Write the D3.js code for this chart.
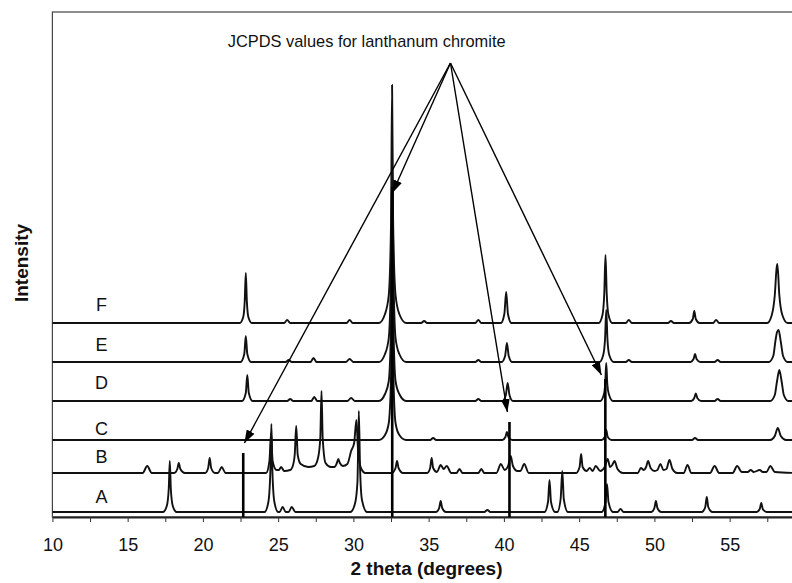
<!DOCTYPE html>
<html>
<head>
<meta charset="utf-8">
<title>XRD patterns - lanthanum chromite</title>
<script src="https://d3js.org/d3.v7.min.js"></script>
<style>
  body { margin: 0; background: #fff; }
  text { font-family: "Liberation Sans", Arial, Helvetica, sans-serif; fill: #111; }
</style>
</head>
<body>
<div id="chart"></div>
<script>
// sample names and their vertical offsets (intensity units)
var sampleNames = ["A", "B", "C", "D", "E", "F"];
var offsets = [5, 44, 77, 116, 155, 194];

// patterns: [2 theta, intensity above own baseline]
var traceA = [[10,0],
  [17.35,0],[17.6,6],[17.73,23],[17.8,51],[17.87,23],[18.0,6],[18.25,0],
  [24.1,0],[24.35,10],[24.48,40],[24.55,88],[24.62,40],[24.75,10],[25.0,0],
  [25.1,0],[25.3,5],[25.5,0],[25.7,0],[25.9,5],[26.15,0],
  [29.8,0],[30.1,8],[30.27,30],[30.36,101],[30.44,45],[30.57,12],[30.9,0],
  [35.5,0],[35.7,4],[35.8,11],[35.9,4],[36.15,0],
  [38.7,0],[38.9,2],[39.1,0],
  [42.7,0],[42.93,10],[43.03,32],[43.13,10],[43.4,0],
  [43.55,0],[43.77,13],[43.88,41],[43.98,13],[44.25,0],
  [46.5,0],[46.75,10],[46.85,28],[46.95,10],[47.25,0],
  [47.55,0],[47.75,3],[47.95,0],
  [49.8,0],[50.0,4],[50.1,11],[50.2,4],[50.45,0],
  [53.15,0],[53.38,5],[53.48,15],[53.58,5],[53.85,0],
  [56.8,0],[57.0,3],[57.1,9],[57.2,3],[57.45,0],
  [59.6,0]];

var traceB = [[10,0],
  [16.0,0],[16.3,7],[16.6,0],
  [18.1,0],[18.3,4],[18.4,10],[18.5,4],[18.8,0],
  [20.15,0],[20.35,5],[20.45,15],[20.55,5],[20.8,0],
  [21.0,0],[21.25,6],[21.5,0],
  [24.2,0],[24.42,12],[24.53,40],[24.63,12],[24.9,3],
  [25.05,3],[25.2,6],[25.4,2],[25.8,3],
  [25.95,6],[26.1,18],[26.2,47],[26.3,18],[26.5,9],[27.0,6],[27.4,7],
  [27.65,15],[27.8,35],[27.88,82],[27.96,35],[28.15,10],[28.5,6],
  [28.75,6],[28.9,10],[29.0,14],[29.1,10],[29.3,7],[29.6,9],
  [29.85,22],[30.05,30],[30.2,53],[30.3,25],[30.5,5],[30.8,0],
  [32.55,0],[32.8,5],[32.9,12],[33.0,5],[33.3,0],
  [34.9,0],[35.1,5],[35.2,15],[35.3,5],[35.55,1],
  [35.8,8],[36.0,4],[36.2,7],[36.5,0],
  [36.85,0],[37.05,4],[37.25,0],
  [38.3,0],[38.5,4],[38.7,0],
  [39.5,0],[39.8,9],[40.05,3],[40.3,8],[40.45,17],[40.6,7],[40.9,2],
  [41.1,2],[41.35,9],[41.65,0],
  [44.8,0],[45.03,6],[45.13,19],[45.23,6],[45.5,2],
  [45.7,5],[45.9,2],[46.1,7],[46.4,2],
  [46.7,6],[46.9,14],[47.05,6],[47.2,8],[47.35,12],[47.55,4],[47.9,0],
  [48.9,0],[49.1,5],[49.3,3],[49.45,6],[49.58,12],[49.75,5],[50.0,2],
  [50.2,3],[50.4,9],[50.6,3],[50.8,4],[51.0,13],[51.2,4],[51.5,0],
  [51.95,0],[52.2,8],[52.45,0],
  [53.7,0],[54.0,7],[54.3,0],
  [55.2,0],[55.5,7],[55.8,1],
  [56.2,1],[56.4,3],[56.6,1],[57.0,3],[57.2,1],
  [57.45,1],[57.7,7],[58.0,1],
  [59.6,0]];

var traceC = [[10,0],
  [31.7,0],[32.1,5],[32.35,17],[32.5,63],[32.58,140],[32.66,63],[32.8,17],[33.05,5],[33.5,0],
  [35.1,0],[35.3,2],[35.5,0],
  [39.9,0],[40.1,3],[40.2,8],[40.3,3],[40.55,0],
  [46.5,0],[46.7,3],[46.8,10],[46.9,3],[47.15,0],
  [52.5,0],[52.7,2],[52.9,0],
  [57.7,0],[58.0,4],[58.2,12],[58.4,4],[58.75,0],
  [59.6,0]];

var traceD = [[10,0],
  [22.6,0],[22.85,8],[22.95,26],[23.05,8],[23.3,0],
  [25.6,0],[25.8,2],[26.0,0],
  [27.2,0],[27.4,4],[27.6,0],
  [29.6,0],[29.85,3],[30.1,0],
  [31.7,0],[32.1,7],[32.35,20],[32.5,76],[32.58,170],[32.66,76],[32.8,20],[33.05,7],[33.5,0],
  [38.1,0],[38.3,2],[38.5,0],
  [39.9,0],[40.13,6],[40.25,18],[40.37,6],[40.6,0],
  [46.4,0],[46.65,7],[46.73,17],[46.8,38],[46.87,17],[46.97,7],[47.25,0],
  [52.45,0],[52.65,3],[52.75,7.5],[52.85,3],[53.1,0],
  [54.0,0],[54.2,2],[54.4,0],
  [57.7,0],[58.0,6],[58.15,20],[58.3,31],[58.45,20],[58.6,6],[58.9,0],
  [59.6,0]];

var traceE = [[10,0],
  [22.5,0],[22.75,8],[22.85,26],[22.95,8],[23.2,0],
  [25.5,0],[25.7,2],[25.9,0],
  [27.15,0],[27.35,4],[27.55,0],
  [29.5,0],[29.75,3],[30.0,0],
  [31.7,0],[32.1,8],[32.35,24],[32.5,90],[32.58,200],[32.66,90],[32.8,24],[33.05,8],[33.5,0],
  [38.1,0],[38.3,2],[38.5,0],
  [39.85,0],[40.08,6],[40.2,19],[40.32,6],[40.55,0],
  [46.35,0],[46.6,7],[46.72,23],[46.8,52],[46.88,23],[47.0,7],[47.3,0],
  [48.1,0],[48.3,2],[48.5,0],
  [52.4,0],[52.6,3],[52.7,8],[52.8,3],[53.05,0],
  [54.0,0],[54.2,2],[54.4,0],
  [57.6,0],[57.9,6],[58.05,22],[58.15,30],[58.25,32],[58.4,20],[58.55,6],[58.85,0],
  [59.6,0]];

var traceF = [[10,0],
  [22.45,0],[22.68,6],[22.78,22],[22.85,50],[22.92,22],[23.02,6],[23.25,0],
  [25.4,0],[25.6,3],[25.8,0],
  [29.55,0],[29.75,3],[29.95,0],
  [31.7,0],[32.1,9],[32.35,28],[32.5,100],[32.57,238],[32.64,100],[32.8,28],[33.05,9],[33.5,0],
  [34.5,0],[34.7,2],[34.9,0],
  [38.1,0],[38.3,3],[38.5,0],
  [39.8,0],[40.03,9],[40.15,31],[40.27,9],[40.5,0],
  [46.3,0],[46.55,8],[46.67,30],[46.75,68],[46.83,30],[46.95,8],[47.2,0],
  [48.1,0],[48.3,3],[48.5,0],
  [50.9,0],[51.1,2],[51.3,0],
  [52.3,0],[52.55,4],[52.65,12],[52.75,4],[53.0,0],
  [53.9,0],[54.1,3],[54.3,0],
  [57.5,0],[57.8,8],[58.0,28],[58.12,55],[58.17,59],[58.3,28],[58.5,8],[58.85,0],
  [59.6,0]];

var traces = [traceA, traceB, traceC, traceD, traceE, traceF];

// JCPDS reference lines for lanthanum chromite
var jcpdsPos = [22.68, 32.58, 40.37, 46.74];
var jcpdsInt = [64, 330, 95, 138];

// axis ticks
var xTicks = [10, 12.5, 15, 17.5, 20, 22.5, 25, 27.5, 30, 32.5, 35, 37.5, 40, 42.5, 45, 47.5, 50, 52.5, 55, 57.5];
var xTickLabels = ["10", "", "15", "", "20", "", "25", "", "30", "", "35", "", "40", "", "45", "", "50", "", "55", ""];

var W = 792, H = 583;
var svg = d3.select("#chart").append("svg")
  .attr("width", W)
  .attr("height", H);

var x = d3.scaleLinear().domain([10, 60]).range([52.4, 804.9]);
var y = d3.scaleLinear().domain([0, 505]).range([517, 12]);

// frame
svg.append("rect")
  .attr("x", x(10)).attr("y", y(505))
  .attr("width", x(60) - x(10)).attr("height", y(0) - y(505))
  .attr("fill", "none").attr("stroke", "#444").attr("stroke-width", 1.2);

// bottom axis
var xAxis = d3.axisBottom(x)
  .tickValues(xTicks)
  .tickFormat(function(d, i) { return xTickLabels[i]; })
  .tickSize(5).tickSizeOuter(0).tickPadding(16);
var gx = svg.append("g")
  .attr("transform", "translate(0," + y(0) + ")")
  .call(xAxis);
gx.select(".domain").attr("stroke", "#222").attr("stroke-width", 2);
gx.selectAll(".tick line").attr("stroke", "#333").attr("stroke-width", 1);
gx.selectAll(".tick text").attr("font-size", "18px").attr("fill", "#111")
  .style("font-family", "'Liberation Sans', Arial, sans-serif");

// patterns
var line = d3.line().curve(d3.curveMonotoneX);
svg.append("g").selectAll("path.trace")
  .data(traces)
  .enter()
  .append("path")
  .attr("class", "trace")
  .attr("d", function(t, i) {
    return line(t.map(function(p) { return [x(p[0]), y(p[1] + offsets[i])]; }));
  })
  .attr("fill", "none")
  .attr("stroke", "#111")
  .attr("stroke-width", 1.9)
  .attr("stroke-linejoin", "round");

// sample labels
var labelY = [13.7, 54.3, 82, 127.7, 166.3, 206.3];
svg.append("g").selectAll("text")
  .data(sampleNames)
  .enter()
  .append("text")
  .text(function(d) { return d; })
  .attr("x", x(13.26))
  .attr("y", function(d, i) { return y(labelY[i]); })
  .attr("text-anchor", "middle")
  .attr("font-size", "18px");

// JCPDS stick lines
svg.append("g").selectAll("line")
  .data(jcpdsPos)
  .enter()
  .append("line")
  .attr("x1", function(d) { return x(d); })
  .attr("x2", function(d) { return x(d); })
  .attr("y1", y(0))
  .attr("y2", function(d, i) { return y(jcpdsInt[i]); })
  .attr("stroke", "#000")
  .attr("stroke-width", 2.6);

// arrows from the label to the stick lines
svg.append("defs").append("marker")
  .attr("id", "head")
  .attr("markerUnits", "userSpaceOnUse")
  .attr("viewBox", "0 0 13 9")
  .attr("markerWidth", 13).attr("markerHeight", 9)
  .attr("refX", 13).attr("refY", 4.5)
  .attr("orient", "auto")
  .append("path").attr("d", "M0,0L13,4.5L0,9Z").attr("fill", "#000");

var apex = [36.45, 454];
var arrowTips = [[22.76, 74], [32.59, 324], [40.23, 105], [46.48, 142]];
svg.append("g").selectAll("line")
  .data(arrowTips)
  .enter()
  .append("line")
  .attr("x1", x(apex[0])).attr("y1", y(apex[1]))
  .attr("x2", function(d) { return x(d[0]); })
  .attr("y2", function(d) { return y(d[1]); })
  .attr("stroke", "#000")
  .attr("stroke-width", 1.4)
  .attr("marker-end", "url(#head)");

svg.append("text")
  .text("JCPDS values for lanthanum chromite")
  .attr("x", x(30.88))
  .attr("y", y(470))
  .attr("text-anchor", "middle")
  .attr("font-size", "16.4px");

// axis titles
svg.append("text")
  .text("2 theta (degrees)")
  .attr("x", 426.5)
  .attr("y", 575)
  .attr("text-anchor", "middle")
  .attr("font-size", "19px")
  .attr("font-weight", "bold");

svg.append("text")
  .text("Intensity")
  .attr("transform", "translate(28,263) rotate(-90)")
  .attr("text-anchor", "middle")
  .attr("font-size", "19px")
  .attr("font-weight", "bold");
</script>
</body>
</html>
